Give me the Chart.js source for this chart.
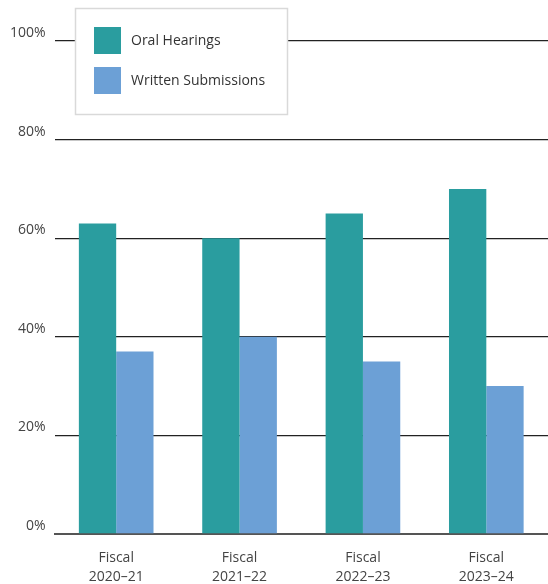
<!DOCTYPE html>
<html>
<head>
<meta charset="utf-8">
<script src="https://cdn.jsdelivr.net/npm/chart.js@4.4.1/dist/chart.umd.min.js"></script>
<style>
  html, body { margin: 0; padding: 0; background: #fff; }
  #wrap { position: relative; width: 548px; height: 584px; }
</style>
</head>
<body>
<div id="wrap"><canvas id="c" width="548" height="584"></canvas></div>
<script>
// Share of hearings by format, per fiscal year
const categories = [["Fiscal", "2020–21"], ["Fiscal", "2021–22"], ["Fiscal", "2022–23"], ["Fiscal", "2023–24"]];
const oralHearings = [63, 60, 65, 70];
const writtenSubmissions = [37, 40, 35, 30];
const seriesNames = ["Oral Hearings", "Written Submissions"];
const yTicks = [0, 20, 40, 60, 80, 100];

const TEAL = "#2a9d9f";
const BLUE = "#6ca0d6";
const FONT = "'Open Sans', 'Noto Sans', sans-serif";

// Boxed legend floating over the top-left of the plot
const boxLegend = {
  id: "boxLegend",
  afterDraw(chart) {
    const ctx = chart.ctx;
    const x = 75.5, y = 8.5, w = 212, h = 106;
    ctx.save();
    ctx.fillStyle = "#fff";
    ctx.fillRect(x, y, w, h);
    ctx.strokeStyle = "#d9d9d9";
    ctx.lineWidth = 1.5;
    ctx.strokeRect(x, y, w, h);
    ctx.font = "14px " + FONT;
    ctx.textBaseline = "middle";
    chart.data.datasets.forEach((ds, i) => {
      const sy = 27 + i * 40;
      ctx.fillStyle = ds.backgroundColor;
      ctx.fillRect(94, sy, 27, 27);
      ctx.fillStyle = "#333";
      ctx.fillText(ds.label, 131, sy + 14);
    });
    ctx.restore();
  }
};

new Chart(document.getElementById("c"), {
  type: "bar",
  data: {
    labels: categories,
    datasets: [
      { label: seriesNames[0], data: oralHearings, backgroundColor: TEAL },
      { label: seriesNames[1], data: writtenSubmissions, backgroundColor: BLUE }
    ]
  },
  options: {
    responsive: false,
    animation: false,
    events: [],
    layout: { padding: { top: 41, right: -2.5, left: 0, bottom: 0 } },
    plugins: { legend: { display: false }, tooltip: { enabled: false } },
    datasets: { bar: { categoryPercentage: 0.605, barPercentage: 1.0 } },
    scales: {
      x: {
        grid: { display: false },
        border: { display: true, color: "#555", width: 2 },
        ticks: {
          color: "#444",
          font: { family: FONT, size: 14, lineHeight: 1.35 },
          padding: 7,
          maxRotation: 0
        },
        afterFit(axis) { axis.height = 50; }
      },
      y: {
        min: 0,
        max: 100,
        afterBuildTicks(axis) { axis.ticks = yTicks.map(v => ({ value: v })); },
        grid: {
          drawTicks: false,
          color: (c) => c.tick && c.tick.value === 0 ? "rgba(0,0,0,0)" : "#222",
          lineWidth: 1.3
        },
        border: { display: false },
        ticks: {
          color: "#444",
          font: { family: FONT, size: 14 },
          padding: 9,
          labelOffset: -8,
          callback: (v) => v + "%"
        },
        afterFit(axis) { axis.width = 54.5; }
      }
    }
  },
  plugins: [boxLegend]
});
</script>
</body>
</html>
